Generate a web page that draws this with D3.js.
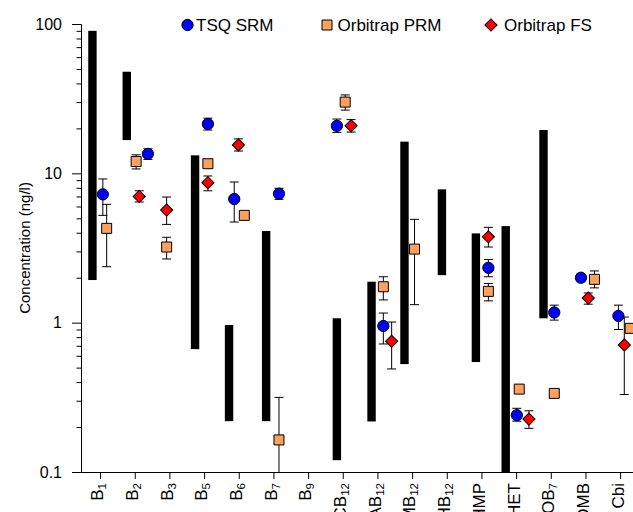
<!DOCTYPE html>
<html>
<head>
<meta charset="utf-8">
<script src="https://cdn.jsdelivr.net/npm/d3@7"></script>
<style>
  body { margin: 0; background: #fff; }
  svg { display: block; font-family: "Liberation Sans", Arial, sans-serif; }
</style>
</head>
<body>
<div id="plot"></div>
<script>
// x categories: [main text, subscript]
var categories = [["B","1"],["B","2"],["B","3"],["B","5"],["B","6"],["B","7"],["B","9"],
  ["CB","12"],["AB","12"],["MB","12"],["OHB","12"],["HMP",""],["HET",""],["DOB","7"],["DMB",""],["Cbi",""]];
var yTicks = [0.1, 1, 10, 100];

// concentration ranges (black bars), x in category units
var rangeX  = [-0.22, 0.77, 2.74, 3.72, 4.79, 6.83, 7.83, 8.78, 9.86, 10.84, 11.70, 12.79];
var rangeLo = [1.93, 16.7, 0.665, 0.219, 0.219, 0.12, 0.218, 0.528, 2.08, 0.545, 0.08, 1.07];
var rangeHi = [90, 47.9, 13.2, 0.964, 4.11, 1.07, 1.88, 16.3, 7.81, 3.96, 4.43, 19.5];

// TSQ SRM
var tsqX   = [0.08, 1.38, 3.11, 3.87, 5.16, 6.83, 8.17, 11.2, 12.02, 13.1, 13.87, 14.95];
var tsqVal = [7.23, 13.5, 21.4, 6.73, 7.3, 20.8, 0.95, 2.33, 0.240, 1.17, 2.0, 1.11];
var tsqLo  = [5.23, 12.4, 19.5, 4.72, 6.7, 18.8, 0.72, 2.03, 0.219, 1.04, 1.88, 0.90];
var tsqHi  = [9.17, 14.6, 23.4, 8.75, 7.94, 23.1, 1.16, 2.65, 0.267, 1.31, 2.12, 1.31];

// Orbitrap PRM
var prmX   = [0.19, 1.04, 1.92, 3.11, 4.16, 5.16, 7.07, 8.17, 9.07, 11.2, 12.09, 13.1, 14.26, 15.29];
var prmVal = [4.28, 12.0, 3.21, 11.6, 5.23, 0.164, 30.0, 1.74, 3.11, 1.62, 0.359, 0.336, 1.95, 0.916];
var prmLo  = [2.37, 10.7, 2.67, 11.0, 5.0, 0.05, 26.5, 1.42, 1.32, 1.40, 0.345, 0.336, 1.71, 0.87];
var prmHi  = [6.2, 13.3, 3.73, 12.3, 5.5, 0.316, 33.5, 2.03, 4.92, 1.83, 0.375, 0.336, 2.22, 0.96];

// Orbitrap FS
var fsX   = [1.13, 1.92, 3.11, 3.99, 7.24, 8.41, 11.2, 12.37, 14.08, 15.12];
var fsVal = [7.0, 5.68, 8.65, 15.5, 20.8, 0.75, 3.76, 0.226, 1.46, 0.71];
var fsLo  = [6.43, 4.55, 7.64, 14.1, 18.9, 0.49, 3.21, 0.196, 1.33, 0.33];
var fsHi  = [7.64, 6.94, 9.6, 17.0, 22.9, 1.01, 4.35, 0.257, 1.58, 1.09];

var W = 633, H = 512;
var margin = {left: 81, right: 634, top: 24, bottom: 472};

var svg = d3.select("#plot").append("svg")
  .attr("width", W)
  .attr("height", H);

var x = d3.scaleLinear().domain([-0.55, 15.4]).range([margin.left, margin.right]);
var y = d3.scaleLog().domain([0.1, 100]).range([margin.bottom, margin.top]);

svg.append("defs").append("clipPath")
  .attr("id", "clip")
  .append("rect")
  .attr("x", margin.left).attr("y", margin.top)
  .attr("width", W - margin.left).attr("height", margin.bottom - margin.top);

var plot = svg.append("g").attr("clip-path", "url(#clip)");

// range bars
plot.selectAll("rect.range")
  .data(rangeX.map(function(d, i) { return {x: d, lo: rangeLo[i], hi: rangeHi[i]}; }))
  .enter().append("rect")
  .attr("class", "range")
  .attr("x", function(d) { return x(d.x) - 4.2; })
  .attr("width", 8.4)
  .attr("y", function(d) { return y(d.hi); })
  .attr("height", function(d) { return y(d.lo) - y(d.hi); })
  .attr("fill", "#000");

// error bars with caps
function errors(xs, los, his) {
  var data = xs.map(function(d, i) { return {x: d, lo: los[i], hi: his[i]}; });
  var g = plot.append("g");
  var eb = g.selectAll("g.err")
    .data(data.filter(function(d) { return d.hi > d.lo; }))
    .enter().append("g")
    .attr("stroke", "#000")
    .attr("stroke-width", 1);
  eb.append("line")
    .attr("x1", function(d) { return x(d.x); })
    .attr("x2", function(d) { return x(d.x); })
    .attr("y1", function(d) { return y(d.lo); })
    .attr("y2", function(d) { return y(d.hi); });
  ["lo", "hi"].forEach(function(k) {
    eb.append("line")
      .attr("x1", function(d) { return x(d.x) - 4.5; })
      .attr("x2", function(d) { return x(d.x) + 4.5; })
      .attr("y1", function(d) { return y(d[k]); })
      .attr("y2", function(d) { return y(d[k]); });
  });
  return g;
}

var sym = {
  tsq: d3.symbol(d3.symbolCircle, 100),
  prm: d3.symbol(d3.symbolSquare, 100),
  fs: d3.symbol(d3.symbolSquare, 74)
};

var gT = errors(tsqX, tsqLo, tsqHi);
var gP = errors(prmX, prmLo, prmHi);
var gF = errors(fsX, fsLo, fsHi);

function markers(g, xs, vals, path, fill, rot) {
  g.selectAll("path.mk")
    .data(xs.map(function(d, i) { return {x: d, v: vals[i]}; }))
    .enter().append("path")
    .attr("class", "mk")
    .attr("d", path)
    .attr("transform", function(d) {
      return "translate(" + x(d.x) + "," + y(d.v) + ")" + (rot ? " rotate(45)" : "");
    })
    .attr("fill", fill)
    .attr("stroke", "#000")
    .attr("stroke-width", 1);
}
markers(gT, tsqX, tsqVal, sym.tsq, "#0000ff", false);
markers(gP, prmX, prmVal, sym.prm, "#ffa060", false);
markers(gF, fsX, fsVal, sym.fs, "#ff0000", true);

// y axis
var yAxis = d3.axisLeft(y).tickValues(yTicks).tickSize(9).tickPadding(10)
  .tickFormat(function(d) { return String(d); });
var minor = [];
yTicks.slice(0, 3).forEach(function(t) {
  for (var k = 2; k < 10; k++) minor.push(t * k);
});
var gy = svg.append("g")
  .attr("transform", "translate(" + margin.left + ",0)")
  .call(yAxis);
svg.append("g")
  .attr("transform", "translate(" + margin.left + ",0)")
  .call(d3.axisLeft(y).tickValues(minor).tickSize(4.5).tickFormat(""))
  .select(".domain").remove();
gy.selectAll("text").attr("font-size", 16).attr("fill", "#000").style("font-family", "inherit");

// x axis, rotated labels with subscripts
var gx = svg.append("g")
  .attr("transform", "translate(0," + margin.bottom + ")")
  .call(d3.axisBottom(x).tickValues(d3.range(categories.length)).tickSize(7).tickSizeOuter(0)
    .tickFormat(""));
gx.selectAll(".tick").append("text")
  .attr("transform", "rotate(-90)")
  .attr("x", -11)
  .attr("y", 0)
  .attr("dy", "0.17em")
  .attr("text-anchor", "end")
  .attr("font-size", 17)
  .attr("fill", "#000")
  .style("font-family", "inherit")
  .each(function(d) {
    var t = d3.select(this);
    var c = categories[d];
    t.append("tspan").text(c[0]);
    if (c[1]) t.append("tspan").attr("font-size", 11.5).attr("dy", 3).text(c[1]);
  });

svg.selectAll(".domain, .tick line").attr("stroke", "#000");

// y title
svg.append("text")
  .attr("transform", "translate(30,248) rotate(-90)")
  .attr("text-anchor", "middle")
  .attr("font-size", 15)
  .text("Concentration (ng/l)");

// legend
var leg = svg.append("g");
leg.append("path").attr("d", sym.tsq).attr("transform", "translate(187.5,25)")
  .attr("fill", "#0000ff").attr("stroke", "#000");
leg.append("text").attr("x", 196).attr("y", 31).attr("font-size", 17).text("TSQ SRM");
leg.append("path").attr("d", sym.prm).attr("transform", "translate(327,25)")
  .attr("fill", "#ffa060").attr("stroke", "#000");
leg.append("text").attr("x", 337.5).attr("y", 31).attr("font-size", 17).text("Orbitrap PRM");
leg.append("path").attr("d", sym.fs).attr("transform", "translate(491,25) rotate(45)")
  .attr("fill", "#ff0000").attr("stroke", "#000");
leg.append("text").attr("x", 504).attr("y", 31).attr("font-size", 17).text("Orbitrap FS");
</script>
</body>
</html>
